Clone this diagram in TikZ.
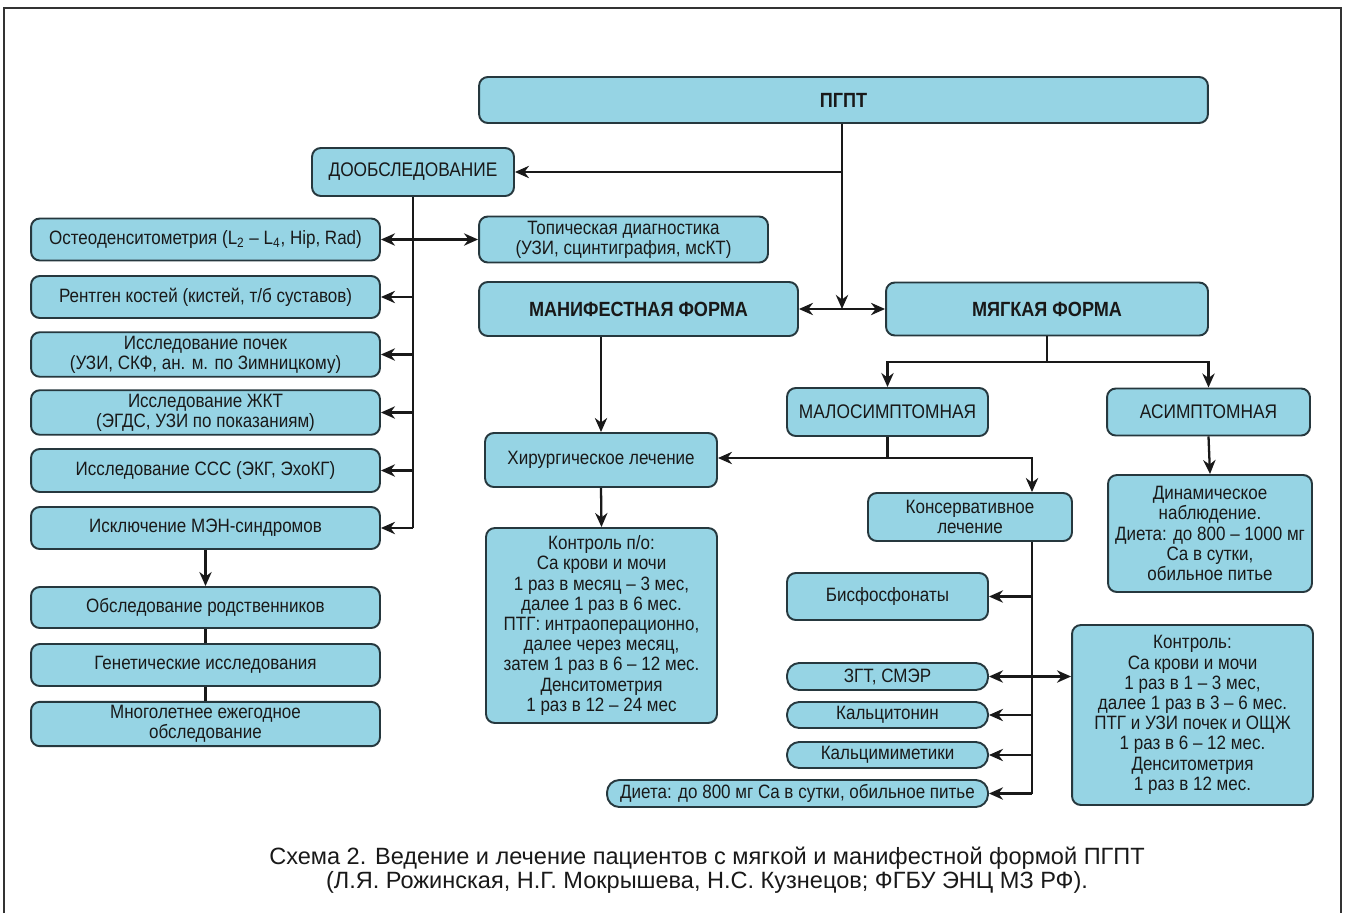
\documentclass[tikz,border=0pt]{standalone}
\usepackage{fontspec}
\setmainfont{Liberation Sans}[FakeStretch=0.88]
\newfontfamily\capfont{Liberation Sans}
\usetikzlibrary{arrows.meta,positioning}

\definecolor{boxfill}{RGB}{150,212,228}
\definecolor{boxline}{RGB}{38,56,62}
\definecolor{inkgray}{RGB}{25,25,25}

\tikzset{
  box/.style={draw=boxline, fill=boxfill, line width=1.1pt, rounded corners=5pt,
    align=center, inner sep=2pt, text=inkgray, font=\fontsize{11}{11.5}\selectfont},
  pill/.style={box, rounded corners=7pt},
  headbox/.style={box, font=\fontsize{11.7}{14}\selectfont\bfseries},
  capsbox/.style={box, font=\fontsize{11.2}{13}\selectfont},
  link/.style={line width=1.3pt, draw=inkgray},
}

\begin{document}
\begin{tikzpicture}[x=0.02cm, y=-0.02cm, >={Stealth[length=8pt,width=7pt]}]

  \useasboundingbox (0,0) rectangle (1345,913);
  % Frame
  \draw[line width=0.8pt, draw=black!80] (4,913) -- (4,8) -- (1341,8) -- (1341,913);

  % Top
  \node[headbox, minimum width=14.58cm, minimum height=0.92cm] (pgpt) at (843.5,100) {ПГПТ};
  \node[capsbox, minimum width=4.04cm, minimum height=0.96cm] (dop) at (413,172) {ДООБСЛЕДОВАНИЕ};

  % Left column
  \node[box, minimum width=6.98cm, minimum height=0.84cm] (osteo) at (205.5,239.5) {Остеоденситометрия (L\textsubscript{2} – L\textsubscript{4}, Hip, Rad)};
  \node[box, minimum width=6.98cm, minimum height=0.84cm] (rentgen) at (205.5,297) {Рентген костей (кистей, т/б суставов)};
  \node[box, minimum width=6.98cm, minimum height=0.86cm] (pochki) at (205.5,354.5) {Исследование почек\\(УЗИ, СКФ, ан. м. по Зимницкому)};
  \node[box, minimum width=6.98cm, minimum height=0.82cm] (zhkt) at (205.5,412.5) {Исследование ЖКТ\\(ЭГДС, УЗИ по показаниям)};
  \node[box, minimum width=6.98cm, minimum height=0.86cm] (sss) at (205.5,470.5) {Исследование ССС (ЭКГ, ЭхоКГ)};
  \node[box, minimum width=6.98cm, minimum height=0.84cm] (men) at (205.5,528) {Исключение МЭН-синдромов};
  \node[box, minimum width=6.98cm, minimum height=0.82cm] (rodst) at (205.5,607.5) {Обследование родственников};
  \node[box, minimum width=6.98cm, minimum height=0.84cm] (genet) at (205.5,665) {Генетические исследования};
  \node[box, minimum width=6.98cm, minimum height=0.84cm] (mnogolet) at (205.5,724) {Многолетнее ежегодное\\обследование};

  % Middle
  \node[box, minimum width=5.78cm, minimum height=0.92cm] (topich) at (623.5,239.5) {Топическая диагностика\\(УЗИ, сцинтиграфия, мсКТ)};
  \node[headbox, minimum width=6.38cm, minimum height=1.08cm] (manif) at (638.5,309) {МАНИФЕСТНАЯ ФОРМА};
  \node[headbox, minimum width=6.44cm, minimum height=1.06cm] (myagk) at (1047,309) {МЯГКАЯ ФОРМА};
  \node[capsbox, minimum width=4.02cm, minimum height=0.96cm] (malo) at (887.5,412) {МАЛОСИМПТОМНАЯ};
  \node[capsbox, minimum width=4.06cm, minimum height=0.94cm] (asimp) at (1208.5,412) {АСИМПТОМНАЯ};
  \node[box, minimum width=4.64cm, minimum height=1.08cm] (hirurg) at (601,460) {Хирургическое лечение};
  \node[box, minimum width=4.62cm, minimum height=3.9cm] (kontrpo) at (601.5,625.5) {Контроль п/о:\\Ca крови и мочи\\1 раз в месяц – 3 мес,\\далее 1 раз в 6 мес.\\ПТГ: интраоперационно,\\далее  через месяц,\\затем 1 раз в 6 – 12 мес.\\Денситометрия\\1 раз в 12 – 24 мес};
  \node[box, minimum width=4.08cm, minimum height=0.96cm] (konserv) at (970,517) {Консервативное\\лечение};
  \node[box, minimum width=4.08cm, minimum height=2.34cm] (dinam) at (1210,533.5) {Динамическое\\наблюдение.\\Диета: до 800 – 1000 мг\\Ca в сутки,\\обильное питье};

  % Conservative options
  \node[box, minimum width=4.02cm, minimum height=0.94cm] (bisf) at (887.5,596.5) {Бисфосфонаты};
  \node[pill, minimum width=4.02cm, minimum height=0.54cm] (zgt) at (887.5,676.5) {ЗГТ, СМЭР};
  \node[pill, minimum width=4.02cm, minimum height=0.52cm] (kalcit) at (887.5,715) {Кальцитонин};
  \node[pill, minimum width=4.02cm, minimum height=0.52cm] (kalcim) at (887.5,755) {Кальцимиметики};
  \node[pill, minimum width=7.62cm, minimum height=0.54cm] (dieta) at (797.5,793.5) {Диета: до 800 мг Ca в сутки, обильное питье};
  \node[box, minimum width=4.82cm, minimum height=3.6cm] (kontr) at (1192.5,715) {Контроль:\\Ca крови и мочи\\1 раз в 1 – 3 мес,\\далее 1 раз в 3 – 6 мес.\\ПТГ и УЗИ почек и ОЩЖ\\1 раз в 6 – 12 мес.\\Денситометрия\\1 раз в 12 мес.};

  % Branch points
  \coordinate (split) at (842,309);
  \coordinate (mbr) at (1047,362);
  \coordinate (lbr) at (887.5,458);
  \coordinate (ktop) at (1032,458);

  % PGPT branches
  \draw[link, ->] (split |- pgpt.south) -- (split);
  \draw[link, ->] (split |- dop.east) -- (dop.east);
  \draw[link, <->] (manif.east) -- (myagk.west);

  % Dообследование trunk
  \draw[link] (dop.south) -- (dop.south |- men.east);
  \draw[link, <->] (osteo.east) -- (topich.west);
  \foreach \n in {rentgen, pochki, zhkt, sss, men}
    \draw[link, ->] (dop.south |- \n.east) -- (\n.east);
  \draw[link, ->] (men.south) -- (rodst.north);
  \draw[link] (rodst.south) -- (genet.north);
  \draw[link] (genet.south) -- (mnogolet.north);

  % Soft form
  \draw[link] (myagk.south) -- (mbr);
  \draw[link, ->] (mbr) -| (malo.north);
  \draw[link, ->] (mbr) -| (asimp.north);
  \draw[link, ->] (asimp.south) -- (dinam.north);
  \draw[link] (malo.south) -- (lbr);
  \draw[link, ->] (lbr) -- (lbr -| hirurg.east);
  \draw[link, ->] (lbr) -- (ktop) -- (ktop |- konserv.north);

  % Manifest form
  \draw[link, ->] (hirurg.north |- manif.south) -- (hirurg.north);
  \draw[link, ->] (hirurg.south) -- (kontrpo.north);

  % Conservative trunk
  \draw[link] (ktop |- konserv.south) -- (ktop |- dieta.east);
  \foreach \n in {bisf, kalcit, kalcim, dieta}
    \draw[link, ->] (ktop |- \n.east) -- (\n.east);
  \draw[link, <->] (zgt.east) -- (zgt.east -| kontr.west);

  % Caption
  \node[font=\capfont\fontsize{13.4}{13.6}\selectfont, align=center, text=inkgray] (caption) at (707,870)
    {Схема 2. Ведение и лечение пациентов с мягкой и манифестной формой ПГПТ\\(Л.Я. Рожинская, Н.Г. Мокрышева, Н.С. Кузнецов; ФГБУ ЭНЦ МЗ РФ).};
\end{tikzpicture}
\end{document}
